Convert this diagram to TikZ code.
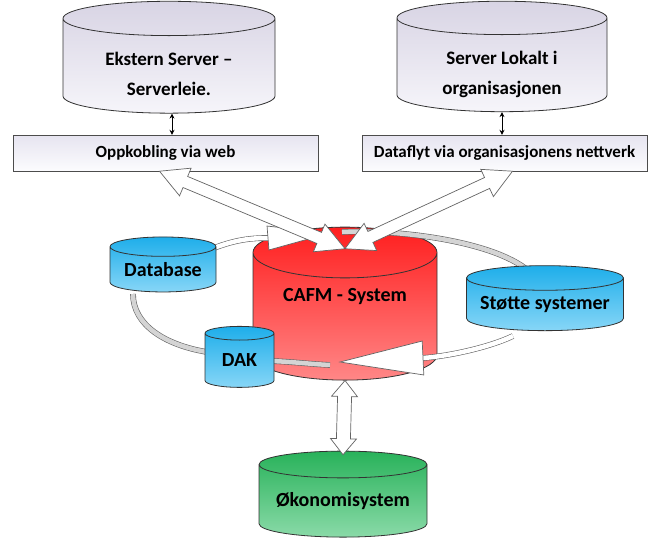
\documentclass[tikz,border=0pt]{standalone}
\usepackage{fontspec}
\setmainfont{Carlito}
\usetikzlibrary{shapes.geometric,calc,arrows.meta}

\definecolor{srvtop}{RGB}{216,212,228}
\definecolor{srvbot}{RGB}{246,245,250}
\definecolor{boxtop}{RGB}{230,228,240}
\definecolor{boxbot}{RGB}{252,252,254}
\definecolor{bluetop}{RGB}{30,174,234}
\definecolor{bluebot}{RGB}{135,214,247}
\definecolor{redtop}{RGB}{255,30,30}
\definecolor{redbot}{RGB}{255,135,135}
\definecolor{greentop}{RGB}{40,178,90}
\definecolor{greenbot}{RGB}{138,218,168}
\definecolor{bandgray}{RGB}{212,212,212}
\definecolor{edgegray}{RGB}{100,100,100}

\tikzset{
  db/.style={cylinder, shape border rotate=90, draw=black!80, line width=0.8pt, text=black,
    inner sep=0pt, align=center, font=\bfseries\fontsize{20}{24}\selectfont},
  server/.style={db, top color=srvtop, bottom color=srvbot,
    font=\bfseries\fontsize{19}{30}\selectfont},
  blue db/.style={db, top color=bluetop, bottom color=bluebot},
  linkbox/.style={rectangle, draw=black!70, top color=boxtop, bottom color=boxbot, text=black,
    inner sep=0pt, font=\bfseries\fontsize{17}{20}\selectfont},
  blockarrow/.style={draw=edgegray, fill=white, line width=0.7pt, line join=miter},
  band/.style={draw=edgegray, line width=0.6pt, double=bandgray, double distance=4.5pt},
  whiteband/.style={band, double=white},
  smallarrow/.style={{Stealth[length=5pt,width=5pt]}-{Stealth[length=5pt,width=5pt]}, line width=1pt},
}

% two centred lines, lowered inside the cylinder
\newcommand\srvtext[2]{\raisebox{-8pt}[\height][\depth]{\begin{tabular}{@{}c@{}}#1\\#2\end{tabular}}}

% ends, shaft half width, head half width, head length
\newcommand\dblarrow[5]{%
  \draw[blockarrow] let \p1=($(#2)-(#1)$), \n1={atan2(\y1,\x1)} in
    (#1) -- ($(#1)+(\n1:#5)+(\n1+90:#4)$) -- ($(#1)+(\n1:#5)+(\n1+90:#3)$)
    -- ($(#2)+(\n1+180:#5)+(\n1+90:#3)$) -- ($(#2)+(\n1+180:#5)+(\n1+90:#4)$)
    -- (#2) -- ($(#2)+(\n1+180:#5)+(\n1-90:#4)$) -- ($(#2)+(\n1+180:#5)+(\n1-90:#3)$)
    -- ($(#1)+(\n1:#5)+(\n1-90:#3)$) -- ($(#1)+(\n1:#5)+(\n1-90:#4)$) -- cycle;}
% tip, base centre, half width
\newcommand\ringhead[3]{%
  \draw[blockarrow] let \p1=($(#2)-(#1)$), \n1={atan2(\y1,\x1)} in
    (#1) -- ($(#2)+(\n1+90:#3)$) -- ($(#2)+(\n1-90:#3)$) -- cycle;}

\begin{document}
\begin{tikzpicture}[x=1pt, y=-1pt]
\useasboundingbox (0,0) rectangle (649,542);

% servers and links
\node[server, minimum width=212pt, minimum height=108pt, aspect=0.27] (ekstern) at (169,66) {\srvtext{Ekstern Server --}{Serverleie.}};
\node[server, minimum width=210pt, minimum height=106pt, aspect=0.28] (lokalt) at (502,65) {\srvtext{Server Lokalt i}{organisasjonen}};
\node[linkbox, minimum width=305pt, minimum height=36pt] (web) at (165.5,153) {Oppkobling via web};
\node[linkbox, minimum width=285pt, minimum height=36pt] (nett) at (504.5,153) {Dataflyt via organisasjonens nettverk};

\draw[smallarrow] ([xshift=3pt]ekstern.south) -- ([xshift=3pt]ekstern.south |- web.north);
\draw[smallarrow] (lokalt.south) -- (lokalt.south |- nett.north);

% main system
\node[db, top color=redtop, bottom color=redbot, minimum width=184pt, minimum height=153pt, aspect=0.41,
  text depth=44pt] (cafm) at (345,316.5) {CAFM - System};

% ring
\coordinate (ringa) at (214,248);
\coordinate (headabase) at (268,238);
\coordinate (headatip) at (330,233);
\coordinate (ringb) at (342,232);
\coordinate (ringc) at (423,358);
\coordinate (headctip) at (340,362);
\coordinate (ringd) at (330,365);
\draw[whiteband] (ringa) .. controls (235,240) and (250,238) .. (headabase);
\draw[band] (ringb) .. controls (400,229) and (500,242) .. (532,274);
\draw[whiteband] (513,336) .. controls (490,347) and (450,356) .. (ringc);
\draw[band] (272,361) .. controls (295,362) and (310,364) .. (ringd);
\draw[band] (207,352) .. controls (165,345) and (133,325) .. (133,294);

\node[blue db, minimum width=106pt, minimum height=55pt, aspect=0.25] (database) at (163,269.5) {Database};
\node[blue db, minimum width=69pt, minimum height=61pt, aspect=0.39] (dak) at (239.5,360.5) {DAK};
\node[blue db, minimum width=157pt, minimum height=65pt, aspect=0.19] (stotte) at (545,304.5) {Støtte systemer};
\node[db, top color=greentop, bottom color=greenbot, minimum width=168pt, minimum height=86pt, aspect=0.2] (okonomi) at (343,501) {Økonomisystem};

\ringhead{headatip}{headabase}{12pt}
\ringhead{headctip}{ringc}{17pt}

% block arrows
\coordinate (cafmtop) at ([yshift=-22pt]cafm.north);
\dblarrow{[xshift=-6pt]web.south}{cafmtop}{6pt}{15pt}{28pt}
\dblarrow{[xshift=8pt]nett.south}{cafmtop}{6pt}{15pt}{28pt}
\dblarrow{cafm.south}{[yshift=-4pt]okonomi.north}{7pt}{13pt}{16pt}

\end{tikzpicture}
\end{document}
